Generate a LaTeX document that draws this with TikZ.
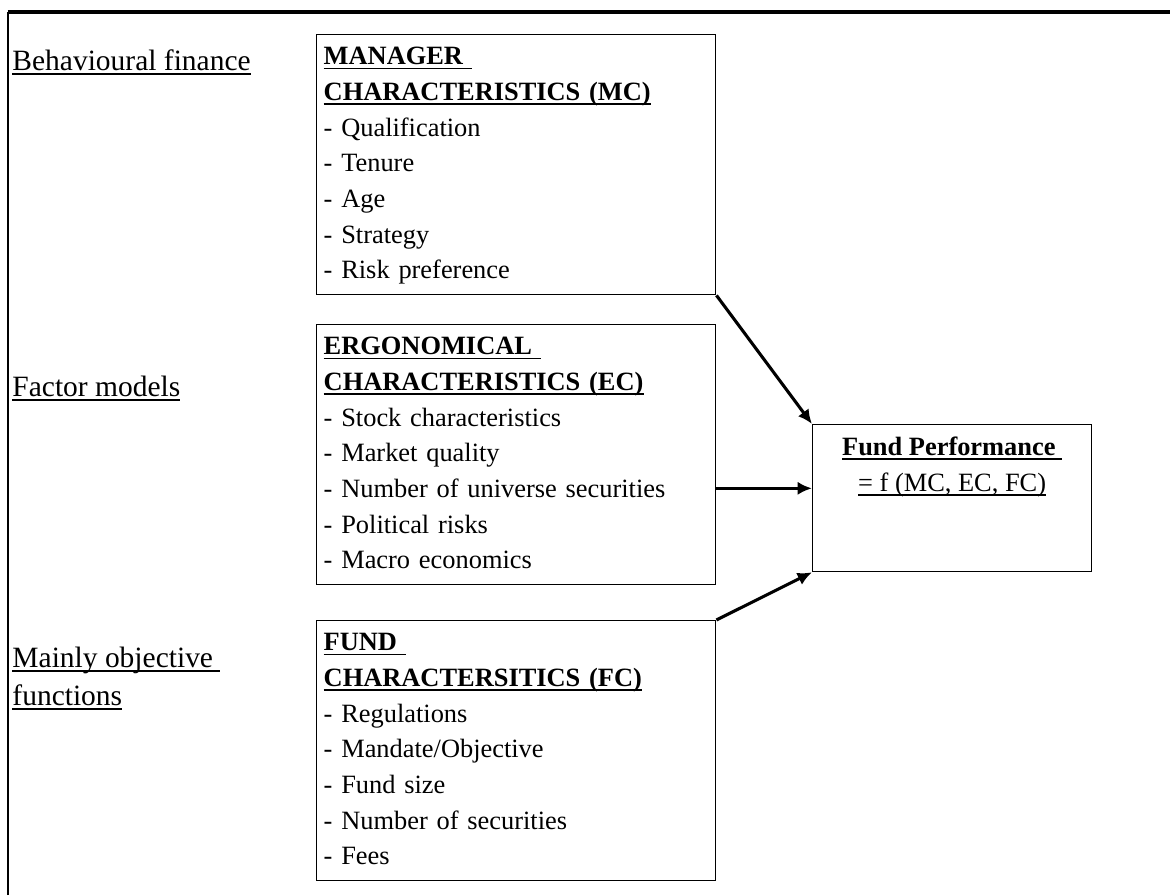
\documentclass[tikz,border=0pt]{standalone}
\usepackage{fontspec}
\setmainfont{Liberation Serif}
\usetikzlibrary{arrows.meta}
\newcommand{\uln}[1]{{\setbox0\hbox{#1}\rlap{\rule[-2pt]{\wd0}{0.7pt}}\box0}}

\begin{document}
\begin{tikzpicture}[
    every node/.style={font=\fontsize{12}{16.2}\selectfont},
    charbox/.style={draw, line width=0.6pt, anchor=north west, inner xsep=3.2pt, inner ysep=2.4pt, text width=175pt, align=left},
    theory/.style={anchor=north west, inner sep=0pt, align=left, font=\fontsize{13.4}{17.3}\selectfont},
    link/.style={line width=1.4pt, -{Latex[length=6.5pt,width=6pt]}}
]
    \useasboundingbox (0, 0) rectangle (18.69, -14.30);
    \draw[line width=0.9pt] (0.12, -14.30) -- (0.12, -0.192);
    \draw[line width=1.4pt] (0.12, -0.192) -- (18.69, -0.192);

    \node[theory] (BF) at (0.192, -0.692) {\strut\uln{Behavioural finance}};
    \node[theory] (FM) at (0.192, -5.900) {\strut\uln{Factor models}};
    \node[theory] (MO) at (0.192, -10.229) {\strut\uln{Mainly objective }\\\uln{functions}};

    \node[charbox] (MC) at (5.048, -0.543) {\strut\textbf{\uln{MANAGER }}\\
        \textbf{\uln{CHARACTERISTICS (MC)}}\\
        - Qualification\\
        - Tenure\\
        - Age\\
        - Strategy\\
        - Risk preference\strut};
    \node[charbox] (EC) at (5.048, -5.176) {\strut\textbf{\uln{ERGONOMICAL }}\\
        \textbf{\uln{CHARACTERISTICS (EC)}}\\
        - Stock characteristics\\
        - Market quality\\
        - Number of universe securities\\
        - Political risks\\
        - Macro economics\strut};
    \node[charbox] (FC) at (5.048, -9.904) {\strut\textbf{\uln{FUND }}\\
        \textbf{\uln{CHARACTERSITICS (FC)}}\\
        - Regulations\\
        - Mandate/Objective\\
        - Fund size\\
        - Number of securities\\
        - Fees\strut};

    \node[draw, line width=0.6pt, anchor=north west, inner sep=0pt,
          minimum width=126.8pt, minimum height=66.8pt,
          label={[anchor=north, inner sep=0pt, yshift=-2.8pt, align=center]north:{\strut\textbf{\uln{Fund Performance }}\\\uln{= f (MC, EC, FC)}}}]
          (FP) at (12.971, -6.773) {};

    \draw[link] (MC.south east) -- (FP.north west);
    \draw[link] (EC.east |- FP.176) -- (FP.176);
    \draw[link] (FC.north east) -- (FP.south west);
\end{tikzpicture}
\end{document}
